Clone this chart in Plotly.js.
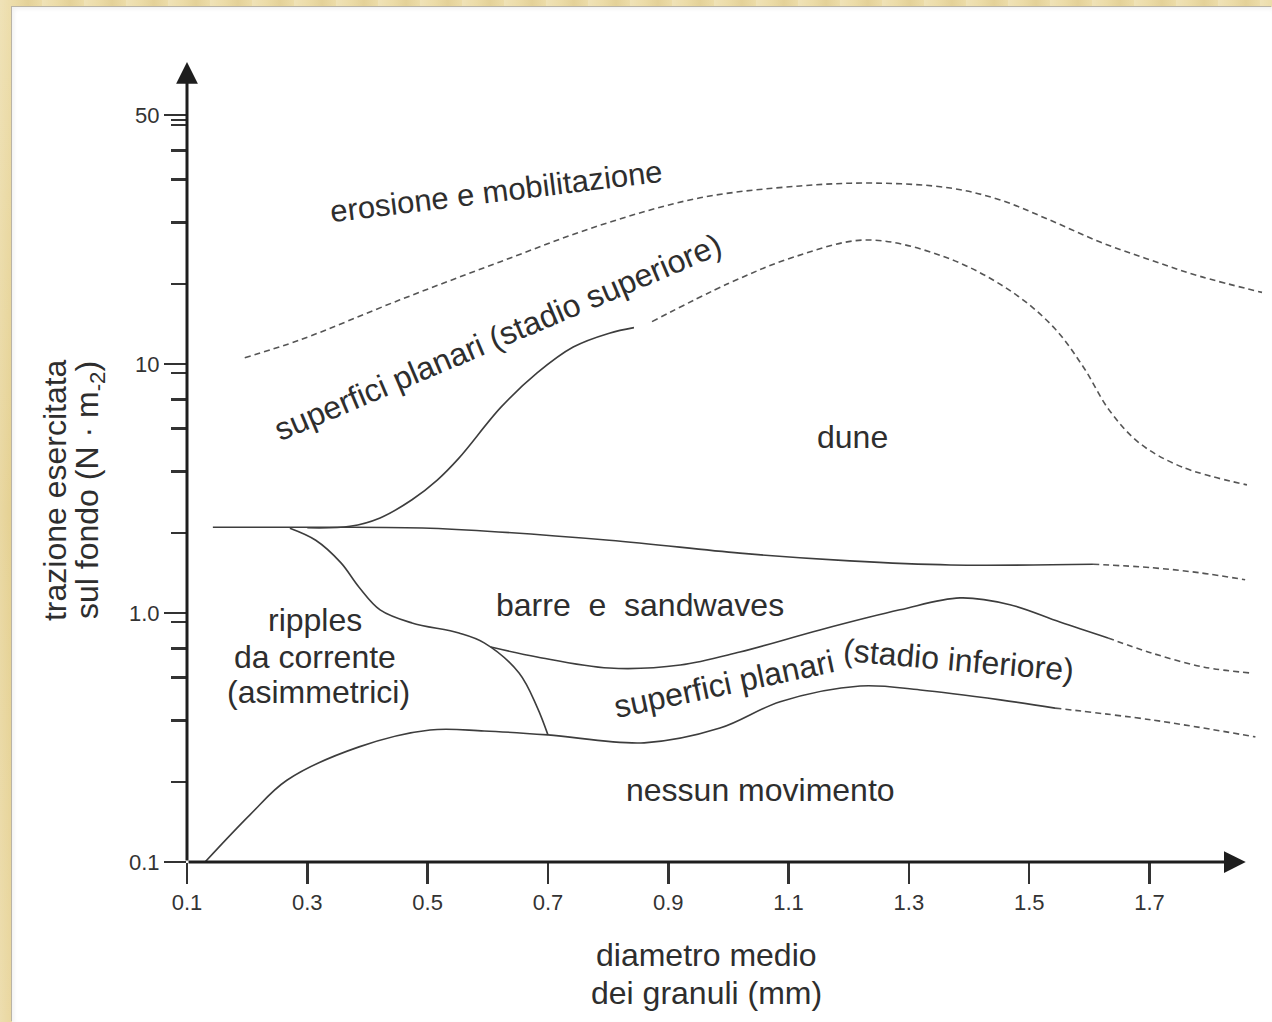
<!DOCTYPE html>
<html>
<head>
<meta charset="utf-8">
<script src="https://cdn.plot.ly/plotly-3.0.1.min.js"></script>
<style>
  html, body { margin:0; padding:0; width:1272px; height:1022px; overflow:hidden; }
  body {
    background:
      repeating-linear-gradient(90deg, rgba(255,255,255,0.18) 0px, rgba(255,255,255,0) 14px, rgba(190,160,80,0.18) 28px, rgba(255,255,255,0) 42px),
      linear-gradient(180deg, #ecdca8 0%, #e4cf8e 50%, #e9d69d 100%);
  }
  #chart {
    position:absolute; left:12px; top:7px; width:1260px; height:1015px;
    background:#fff; box-shadow: -1px -1px 0 #b9b4a6, inset 2px 2px 4px rgba(0,0,0,0.06);
  }
</style>
</head>
<body>
<div id="chart"></div>
<script>
// ---- axis ticks ----
const xTickVals = [0.1, 0.3, 0.5, 0.7, 0.9, 1.1, 1.3, 1.5, 1.7];
const xTickText = ['0.1', '0.3', '0.5', '0.7', '0.9', '1.1', '1.3', '1.5', '1.7'];
const yTickVals = [0.1, 1, 10, 100];
const yTickText = ['0.1', '1.0', '10', '50'];
const yMinorVals = [0.21, 0.37, 0.55, 0.72, 0.92, 2.1, 3.7, 5.5, 7.2, 9.2, 21, 37, 55, 72, 91, 95.5];

// ---- boundary curves (diametro medio mm, trazione N/m2) ----
const erosionX = [0.196, 0.288, 0.454, 0.620, 0.787, 0.953, 1.119, 1.244, 1.369, 1.452, 1.535, 1.618, 1.701, 1.784, 1.887];
const erosionY = [10.6, 12.5, 18.1, 25.7, 36.1, 46.5, 51.9, 53.3, 50.9, 45.6, 37.8, 30.9, 26.2, 22.5, 19.4];

const upperPlanarX = [0.300, 0.371, 0.421, 0.474, 0.516, 0.552, 0.622, 0.682, 0.742, 0.802, 0.843];
const upperPlanarY = [2.20, 2.23, 2.41, 2.85, 3.42, 4.19, 6.71, 9.21, 11.7, 13.3, 14.0];
const upperPlanarDashX = [0.873, 1.001, 1.109, 1.230, 1.360, 1.467, 1.540, 1.590, 1.633, 1.683, 1.754, 1.862];
const upperPlanarDashY = [14.8, 21.1, 26.9, 31.5, 26.9, 19.8, 14.1, 9.73, 6.53, 4.82, 3.86, 3.27];

const duneLowerX = [0.143, 0.288, 0.504, 0.802, 1.019, 1.202, 1.369, 1.606];
const duneLowerY = [2.21, 2.21, 2.19, 1.96, 1.74, 1.62, 1.56, 1.57];
const duneLowerDashX = [1.606, 1.704, 1.784, 1.859];
const duneLowerDashY = [1.57, 1.52, 1.45, 1.36];

const ripplesX = [0.271, 0.314, 0.356, 0.386, 0.421, 0.474, 0.552, 0.594, 0.652, 0.682, 0.700];
const ripplesY = [2.19, 1.96, 1.59, 1.27, 1.03, 0.912, 0.831, 0.759, 0.574, 0.419, 0.324];

const barreLowerX = [0.605, 0.682, 0.802, 0.920, 1.019, 1.152, 1.285, 1.385, 1.468, 1.551, 1.631];
const barreLowerY = [0.730, 0.666, 0.601, 0.618, 0.697, 0.855, 1.03, 1.15, 1.08, 0.920, 0.794];
const barreLowerDashX = [1.631, 1.704, 1.791, 1.869];
const barreLowerDashY = [0.794, 0.690, 0.606, 0.574];

const thresholdX = [0.130, 0.205, 0.266, 0.386, 0.504, 0.594, 0.700, 0.860, 0.986, 1.086, 1.219, 1.319, 1.452, 1.543];
const thresholdY = [0.100, 0.155, 0.213, 0.290, 0.339, 0.336, 0.324, 0.301, 0.345, 0.440, 0.509, 0.491, 0.448, 0.415];
const thresholdDashX = [1.543, 1.704, 1.876];
const thresholdDashY = [0.415, 0.372, 0.318];

// ---- region labels ----
const labels = [
  {text: 'erosione e mobilitazione', x: 0.614, y: 49.5, angle: -7, size: 31},
  {text: 'superfici planari (stadio superiore)', x: 0.617, y: 12.8, angle: -23, size: 32},
  {text: 'dune', x: 1.207, y: 5.1, angle: 0, size: 32},
  {text: 'barre \u00a0e \u00a0sandwaves', x: 0.853, y: 1.08, angle: 0, size: 32},
  {text: 'ripples', x: 0.313, y: 0.937, angle: 0, size: 32},
  {text: 'da corrente', x: 0.313, y: 0.665, angle: 0, size: 32},
  {text: '(asimmetrici)', x: 0.318, y: 0.482, angle: 0, size: 32},
  {text: 'superfici planari', x: 0.993, y: 0.519, angle: -12, size: 32},
  {text: '(stadio inferiore)', x: 1.382, y: 0.647, angle: 5, size: 32},
  {text: 'nessun movimento', x: 1.053, y: 0.1945, angle: 0, size: 32}
];

const solid = {color: '#3d3d3d', width: 1.6, shape: 'spline', smoothing: 1};
const dashed = {color: '#555', width: 1.6, shape: 'spline', smoothing: 1, dash: '6px,4px'};
function tr(x, y, line) {
  return {x: x, y: y, type: 'scatter', mode: 'lines', line: line, hoverinfo: 'skip', showlegend: false};
}
const data = [
  tr(erosionX, erosionY, dashed),
  tr(upperPlanarX, upperPlanarY, solid),
  tr(upperPlanarDashX, upperPlanarDashY, dashed),
  tr(duneLowerX, duneLowerY, solid),
  tr(duneLowerDashX, duneLowerDashY, dashed),
  tr(ripplesX, ripplesY, solid),
  tr(barreLowerX, barreLowerY, solid),
  tr(barreLowerDashX, barreLowerDashY, dashed),
  tr(thresholdX, thresholdY, solid),
  tr(thresholdDashX, thresholdDashY, dashed)
];

const FONT = 'Liberation Sans, Arial, Helvetica, sans-serif';
const TXT = '#2e2e2e';
const xMin = 0.1, xMax = 1.892, yLogMin = -1, yLogMax = 2.213;

const annotations = labels.map(l => ({
  text: l.text, x: l.x, y: Math.log10(l.y), xref: 'x', yref: 'y', xanchor: 'center', yanchor: 'middle',
  showarrow: false, textangle: l.angle, font: {family: FONT, size: l.size, color: TXT}
}));
// axis lines with arrows
annotations.push({x: 1.86, y: yLogMin, ax: xMin, ay: yLogMin, xref: 'x', yref: 'y', axref: 'x', ayref: 'y',
  text: '', showarrow: true, arrowhead: 2, arrowsize: 1.45, arrowwidth: 3, arrowcolor: '#1e1e1e'});
annotations.push({x: xMin, y: yLogMax, ax: xMin, ay: yLogMin, xref: 'x', yref: 'y', axref: 'x', ayref: 'y',
  text: '', showarrow: true, arrowhead: 2, arrowsize: 1.45, arrowwidth: 3, arrowcolor: '#1e1e1e'});
// axis titles
const xTitleLines = ['diametro medio', 'dei granuli (mm)'];
const yTitleLines = ['trazione esercitata', 'sul fondo (N · m<sub>-2</sub>)'];
[-0.11625, -0.16375].forEach((py, i) => annotations.push({
  text: xTitleLines[i], xref: 'paper', yref: 'paper', x: 0.482, y: py, xanchor: 'center', yanchor: 'middle',
  showarrow: false, font: {family: FONT, size: 32, color: TXT}}));
[-0.1224, -0.0900].forEach((px, i) => annotations.push({
  text: yTitleLines[i], xref: 'paper', yref: 'paper', x: px, y: 0.465, xanchor: 'center', yanchor: 'middle',
  textangle: -90, showarrow: false, font: {family: FONT, size: 32, color: TXT}}));

const layout = {
  width: 1260, height: 1015,
  margin: {l: 175, r: 7, t: 55, b: 160},
  paper_bgcolor: 'rgba(0,0,0,0)', plot_bgcolor: 'rgba(0,0,0,0)',
  showlegend: false,
  xaxis: {
    range: [xMin, xMax], tickmode: 'array', tickvals: xTickVals, ticktext: xTickText,
    ticks: 'outside', ticklen: 21, tickwidth: 2.5, tickcolor: '#333',
    showgrid: false, zeroline: false, showline: false,
    tickfont: {family: FONT, size: 22, color: '#333'}, fixedrange: true
  },
  yaxis: {
    type: 'log', range: [yLogMin, yLogMax], tickmode: 'array', tickvals: yTickVals, ticktext: yTickText,
    ticks: 'outside', ticklen: 22, tickwidth: 2.5, tickcolor: '#333',
    minor: {tickmode: 'array', tickvals: yMinorVals, ticks: 'outside', ticklen: 15, tickwidth: 2.5, tickcolor: '#333', showgrid: false},
    showgrid: false, zeroline: false, showline: false,
    tickfont: {family: FONT, size: 22, color: '#333'}, fixedrange: true
  },
  annotations: annotations
};

Plotly.newPlot('chart', data, layout, {displayModeBar: false, staticPlot: true});
</script>
</body>
</html>
